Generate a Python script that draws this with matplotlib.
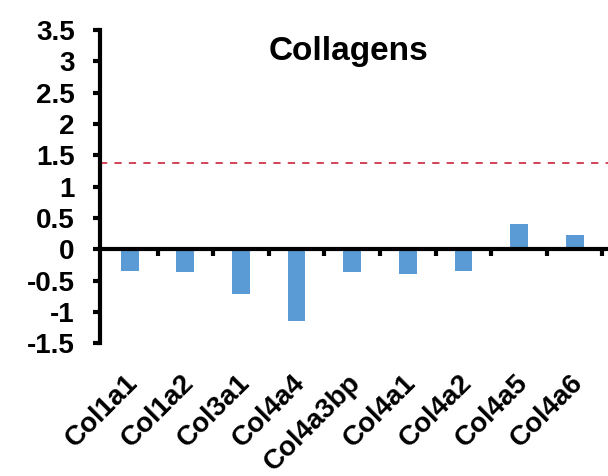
import matplotlib.pyplot as plt
import numpy as np

plt.rcParams['font.family'] = ['Liberation Sans', 'DejaVu Sans']
plt.rcParams['font.weight'] = 'bold'

# data
genes = ['Col1a1', 'Col1a2', 'Col3a1', 'Col4a4', 'Col4a3bp',
         'Col4a1', 'Col4a2', 'Col4a5', 'Col4a6']
values = [-0.34, -0.37, -0.72, -1.15, -0.37, -0.40, -0.35, 0.41, 0.22]
threshold = 1.38
yticks = [-1.5, -1, -0.5, 0, 0.5, 1, 1.5, 2, 2.5, 3, 3.5]
ylabels = ['-1.5', '-1', '-0.5', '0', '0.5', '1', '1.5', '2', '2.5', '3', '3.5']

fig = plt.figure(figsize=(6.08, 4.76), dpi=100)
ax = fig.add_axes([0.164, 0.279, 0.836, 0.658])

x = np.arange(len(genes))
ax.bar(x, values, width=0.32, color='#5B9BD5', zorder=2)
ax.axhline(threshold, color='#D0354A', lw=1.3, ls=(0, (4, 4)), zorder=1)

ax.set_xlim(-0.54, 8.6)
ax.set_ylim(-1.5, 3.5)

# y axis
ax.set_yticks(yticks)
ax.set_yticklabels(ylabels, fontsize=20, fontweight='bold')
ax.tick_params(axis='y', direction='out', length=5, width=3, pad=13)
ax.spines['left'].set_linewidth(3)

# zero line with ticks between categories
ax.spines['bottom'].set_position(('data', 0))
ax.spines['bottom'].set_linewidth(3)
ax.set_xticks(np.arange(0.5, len(genes) - 0.5 + 0.01, 1.0))
ax.set_xticklabels([])
ax.tick_params(axis='x', direction='out', length=5, width=3)
ax.spines['top'].set_visible(False)
ax.spines['right'].set_visible(False)

# category labels at the bottom of the axes
sec = ax.secondary_xaxis('bottom')
sec.set_xticks(x - 0.08)
sec.set_xticklabels(genes, rotation=45, ha='right', rotation_mode='anchor',
                    fontsize=20, fontweight='bold')
sec.tick_params(length=0, pad=19)
sec.spines['bottom'].set_visible(False)

ax.text(0.49, 0.93, 'Collagens', transform=ax.transAxes, ha='center',
        va='center', fontsize=24, fontweight='bold')

fig.savefig('out.png', dpi=100)
